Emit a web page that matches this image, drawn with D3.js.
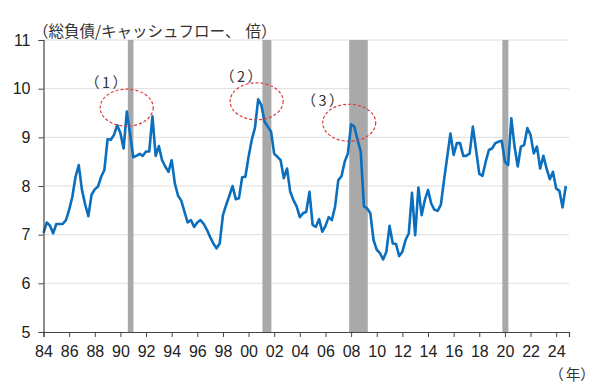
<!DOCTYPE html>
<html>
<head>
<meta charset="utf-8">
<script src="https://cdn.jsdelivr.net/npm/d3@7"></script>
<style>
  body { margin: 0; background: #fff; }
  svg { display: block; }
  .tick text { font-family: "Liberation Sans", Arial, sans-serif; fill: #222; }
  .jp { font-family: "Noto Sans CJK JP", sans-serif; }
</style>
</head>
<body>
<svg id="chart"></svg>
<script>
// quarterly values, 1984 Q1 .. 2024 Q4
var startYear = 1984;
var ratio = [
  7.03, 7.25, 7.19, 7.03,
  7.22, 7.22, 7.22, 7.30,
  7.51, 7.78, 8.19, 8.43,
  7.92, 7.62, 7.38, 7.82,
  7.93, 7.99, 8.19, 8.33,
  8.96, 8.95, 9.05, 9.25,
  9.09, 8.77, 9.53, 9.08,
  8.59, 8.62, 8.66, 8.62,
  8.71, 8.71, 9.43, 8.62,
  8.82, 8.53, 8.40, 8.29,
  8.53, 8.05, 7.80, 7.70,
  7.47, 7.25, 7.30, 7.16,
  7.25, 7.30, 7.22, 7.10,
  6.95, 6.82, 6.72, 6.82,
  7.40, 7.61, 7.80, 8.00,
  7.73, 7.75, 8.18, 8.19,
  8.60, 8.95, 9.20, 9.78,
  9.66, 9.32, 9.22, 9.12,
  8.66, 8.60, 8.53, 8.16,
  8.36, 7.88, 7.71, 7.58,
  7.36, 7.44, 7.47, 7.88,
  7.20, 7.16, 7.32, 7.06,
  7.18, 7.36, 7.30, 7.58,
  8.12, 8.20, 8.50, 8.67,
  9.27, 9.22, 8.95, 8.71,
  7.58, 7.54, 7.44, 6.89,
  6.69, 6.62, 6.49, 6.65,
  7.18, 6.82, 6.81, 6.56,
  6.65, 6.89, 7.03, 7.86,
  6.99, 7.97, 7.40, 7.71,
  7.92, 7.64, 7.51, 7.49,
  7.61, 8.12, 8.60, 9.08,
  8.64, 8.88, 8.88, 8.62,
  8.62, 8.67, 9.22, 8.74,
  8.25, 8.21, 8.50, 8.74,
  8.77, 8.88, 8.91, 8.93,
  8.50, 8.43, 9.39, 8.81,
  8.40, 8.81, 8.84, 9.19,
  9.05, 8.67, 8.81, 8.36,
  8.62, 8.36, 8.14, 8.29,
  7.95, 7.90, 7.56, 8.00
];

// recessions (decimal years)
var recStart = [1990.58, 2001.08, 2007.85, 2019.80];
var recEnd   = [1991.02, 2001.78, 2009.30, 2020.27];

// tick labels
var xTicks = d3.range(1984, 2025, 2);
var yTicks = [5, 6, 7, 8, 9, 10, 11];

// annotations: peak circles and labels
var annoText  = ["1", "2", "3"];
var annoYear  = [1990.49, 2000.63, 2007.85];
var annoVal   = [9.61, 9.74, 9.30];
var labelYear = [1988.88, 1999.41, 2005.77];
var labelVal  = [10.16, 10.28, 9.79];

var width = 600, height = 392;
var svg = d3.select('#chart').attr('width', width).attr('height', height);

var x = d3.scaleLinear().domain([1984, 2025]).range([43.5, 569]);
var y = d3.scaleLinear().domain([5, 11]).range([332, 40]);

var data = ratio.map(function(v, i) { return { t: startYear + i * 0.25, v: v }; });

// gridlines
svg.append('g').selectAll('line')
  .data(yTicks.slice(1))
  .enter().append('line')
  .attr('x1', x(1984)).attr('x2', x(2025))
  .attr('y1', function(d) { return y(d); })
  .attr('y2', function(d) { return y(d); })
  .attr('stroke', '#dedede').attr('stroke-width', 1);

// recession bars
svg.append('g').selectAll('rect')
  .data(recStart)
  .enter().append('rect')
  .attr('x', function(d) { return x(d); })
  .attr('width', function(d, i) { return x(recEnd[i]) - x(d); })
  .attr('y', y(11))
  .attr('height', y(5) - y(11))
  .attr('fill', '#a9a9a9');

// line
var line = d3.line()
  .x(function(d) { return x(d.t); })
  .y(function(d) { return y(d.v); });

svg.append('path')
  .datum(data)
  .attr('d', line)
  .attr('fill', 'none')
  .attr('stroke', '#0b6fbd')
  .attr('stroke-width', 2.6)
  .attr('stroke-linejoin', 'round');

// axes
var yAxis = d3.axisLeft(y).tickValues(yTicks).tickSize(5).tickPadding(8).tickFormat(d3.format('d'));
var xAxis = d3.axisBottom(x).tickValues(xTicks).tickSize(5).tickPadding(9)
  .tickFormat(function(d) { return String(d % 100).padStart(2, '0'); });

var gy = svg.append('g').attr('transform', 'translate(' + x(1984) + ',0)').call(yAxis);
var gx = svg.append('g').attr('transform', 'translate(0,' + y(5) + ')').call(xAxis);

[gy, gx].forEach(function(g) {
  g.select('.domain').attr('stroke', '#444').attr('stroke-width', 1.2);
  g.selectAll('.tick line').attr('stroke', '#444');
  g.selectAll('.tick text').attr('font-size', 16).attr('fill', '#1a1a1a');
});

// annotations
svg.append('g').selectAll('ellipse')
  .data(annoYear)
  .enter().append('ellipse')
  .attr('cx', function(d) { return x(d); })
  .attr('cy', function(d, i) { return y(annoVal[i]); })
  .attr('rx', 26.5)
  .attr('ry', 18.5)
  .attr('fill', 'none')
  .attr('stroke', '#e0393b')
  .attr('stroke-width', 1.2)
  .attr('stroke-dasharray', '3,2');

// the browser trims the fullwidth brackets, so add the spacing back
var labels = svg.append('g').selectAll('text')
  .data(annoText)
  .enter().append('text')
  .attr('class', 'jp')
  .attr('x', function(d, i) { return x(labelYear[i]); })
  .attr('y', function(d, i) { return y(labelVal[i]); })
  .attr('text-anchor', 'middle')
  .attr('dominant-baseline', 'central')
  .attr('font-size', 14.5)
  .attr('fill', '#333');
labels.append('tspan').text('（');
labels.append('tspan').attr('dx', 2.5).text(function(d) { return d; });
labels.append('tspan').attr('dx', 2.5).text('）');

// titles
var title = svg.append('text')
  .attr('class', 'jp')
  .attr('x', 33).attr('y', 30)
  .attr('dominant-baseline', 'central')
  .attr('font-size', 15.5)
  .attr('fill', '#333');
title.append('tspan').text('（総負債/キャッシュフロー、');
title.append('tspan').attr('dx', 5).text('倍）');

var unit = svg.append('text')
  .attr('class', 'jp')
  .attr('x', 572).attr('y', 373)
  .attr('text-anchor', 'middle')
  .attr('dominant-baseline', 'central')
  .attr('font-size', 14.5)
  .attr('fill', '#333');
unit.append('tspan').text('（');
unit.append('tspan').attr('dx', 2).text('年）');
</script>
</body>
</html>
